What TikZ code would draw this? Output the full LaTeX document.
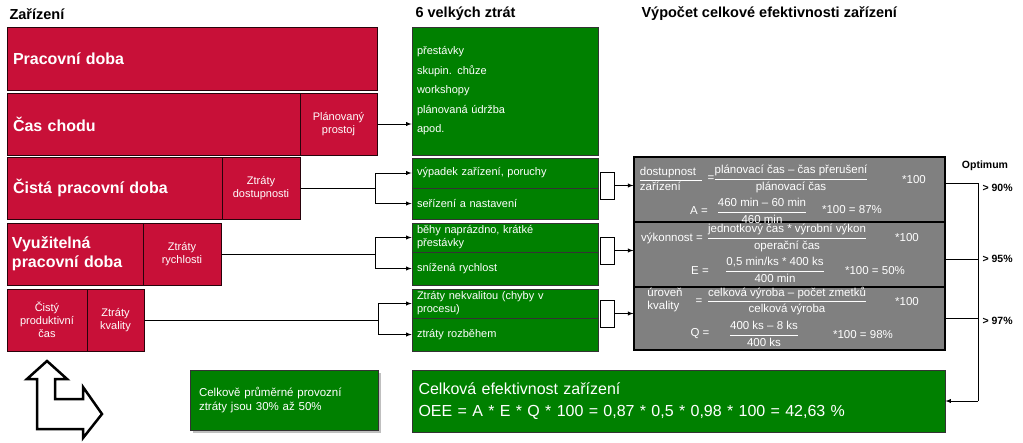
\documentclass[tikz,border=0pt]{standalone}
\usepackage{amsmath}
\usepackage{fontspec}
\setmainfont{Liberation Sans}
\usepackage{tikz}
\usetikzlibrary{shadows,calc}

\definecolor{oeered}{RGB}{200,16,56}
\definecolor{oeegreen}{RGB}{0,128,0}
\definecolor{oeegray}{RGB}{128,128,128}

\tikzset{
  redbox/.style={draw=black!80!oeered,fill=oeered,text=white,inner sep=0pt,line width=1pt},
  greenbox/.style={draw=black!80,fill=oeegreen,text=white,inner sep=0pt,line width=0.8pt},
  graybox/.style={draw=black,fill=oeegray,text=white,inner sep=0pt,line width=1.2pt},
  big/.style={font=\fontsize{16}{19}\selectfont\bfseries,align=left},
  small/.style={font=\fontsize{11}{13}\selectfont,align=center},
  head/.style={font=\fontsize{14.5}{16}\selectfont\bfseries,anchor=west},
  frm/.style={text=white,font=\fontsize{11.5}{12.5}\selectfont,inner sep=0pt},
  link/.style={line width=0.9pt},
  arr/.style={line width=0.9pt,-latex}
}
\newcommand{\frc}[2]{$\dfrac{\mbox{#1}}{\mbox{#2}}$}

\begin{document}
\begin{tikzpicture}[x=1pt,y=-1pt]
\useasboundingbox (0,0) rectangle (1023,442);

% headings
\node[head] (h1) at (6,14) {Zařízení};
\node[head] (h2) at (412,14) {6 velkých ztrát};
\node[head] (h3) at (638,14) {Výpočet celkové efektivnosti zařízení};

% red time blocks
\node[redbox,big,minimum width=370pt,minimum height=63pt,text width=358pt] (pd) at (192,58.5) {Pracovní doba};
\node[redbox,big,minimum width=293pt,minimum height=62pt,text width=281pt] (cc) at (153.5,124) {Čas chodu};
\node[redbox,small,minimum width=77pt,minimum height=62pt] (pp) at (338.5,124) {Plánovaný\\prostoj};
\node[redbox,big,minimum width=215pt,minimum height=62pt,text width=203pt] (cpd) at (114.5,188) {Čistá pracovní doba};
\node[redbox,small,minimum width=78pt,minimum height=62pt] (zd) at (261,188) {Ztráty\\dostupnosti};
\node[redbox,big,minimum width=136pt,minimum height=62pt,text width=126pt] (vpd) at (75,254) {Využitelná\\pracovní doba};
\node[redbox,small,minimum width=78pt,minimum height=62pt] (zr) at (182,254) {Ztráty\\rychlosti};
\node[redbox,small,minimum width=80pt,minimum height=62pt] (cpc) at (47,320) {Čistý\\produktivní\\čas};
\node[redbox,small,minimum width=57pt,minimum height=62pt] (zk) at (115.5,320) {Ztráty\\kvality};

% green losses
\node[greenbox,font=\fontsize{11}{19.5}\selectfont,align=left,text width=176pt,minimum width=186pt,minimum height=128pt] (gz) at (505,91) {přestávky\\skupin. chůze\\workshopy\\plánovaná údržba\\apod.};
\node[greenbox,small,align=left,text width=176pt,minimum width=186pt,minimum height=30pt] (g1a) at (505,173) {výpadek zařízení, poruchy};
\node[greenbox,small,align=left,text width=176pt,minimum width=186pt,minimum height=31pt] (g1b) at (505,203.5) {seřízení a nastavení};
\node[greenbox,small,align=left,text width=176pt,minimum width=186pt,minimum height=29pt] (g2a) at (505,237.5) {běhy naprázdno, krátké\\přestávky};
\node[greenbox,small,align=left,text width=176pt,minimum width=186pt,minimum height=33pt] (g2b) at (505,268.5) {snížená rychlost};
\node[greenbox,small,align=left,text width=176pt,minimum width=186pt,minimum height=29pt] (g3a) at (505,303.5) {Ztráty nekvalitou (chyby v\\procesu)};
\node[greenbox,small,align=left,text width=176pt,minimum width=186pt,minimum height=33pt] (g3b) at (505,334.5) {ztráty rozběhem};

% bottom boxes
\node[greenbox,drop shadow,font=\fontsize{11.5}{14}\selectfont,align=left,text width=170pt,minimum width=188pt,minimum height=60pt] (celk) at (284,400) {Celkově průměrné provozní\\ztráty jsou 30\% až 50\%};
\node[greenbox,font=\fontsize{16}{22}\selectfont,align=left,text width=520pt,minimum width=533pt,minimum height=62pt] (oee) at (678.5,401) {Celková efektivnost zařízení\\OEE = A * E * Q * 100 = 0,87 * 0,5 * 0,98 * 100 = 42,63 \%};

% small white boxes
\node[draw,fill=white,minimum width=14pt,minimum height=27pt,inner sep=0pt] (wb1) at (607,185.5) {};
\node[draw,fill=white,minimum width=14pt,minimum height=27pt,inner sep=0pt] (wb2) at (607,250.5) {};
\node[draw,fill=white,minimum width=14pt,minimum height=27pt,inner sep=0pt] (wb3) at (607,313.5) {};

% gray calculation boxes
\node[graybox,minimum width=311pt,minimum height=65pt] (gr1) at (789.5,189.5) {};
\node[graybox,minimum width=311pt,minimum height=65pt] (gr2) at (789.5,254.5) {};
\node[graybox,minimum width=311pt,minimum height=63pt] (gr3) at (789.5,318.5) {};

% formulas
\node[frm,align=left] (dz) at (671,179) {\underline{dostupnost\rule[-2pt]{6pt}{0pt}}\\zařízení};
\node[frm] (e1) at (711,179) {=};
\node[frm] (f1) at (791,179) {\frc{plánovací čas – čas přerušení}{plánovací čas}};
\node[frm] (m1) at (914,180) {*100};
\node[frm] (a1) at (699,211) {A =};
\node[frm] (f1b) at (762,211) {\frc{460 min – 60 min}{460 min}};
\node[frm] (r1) at (852,210) {*100 = 87\%};

\node[frm] (vk) at (672,238) {výkonnost =};
\node[frm] (f2) at (787,238) {\frc{jednotkový čas * výrobní výkon}{operační čas}};
\node[frm] (m2) at (907,238) {*100};
\node[frm] (a2) at (700,271) {E =};
\node[frm] (f2b) at (775,270) {\frc{0,5 min/ks * 400 ks}{400 min}};
\node[frm] (r2) at (875,271) {*100 = 50\%};

\node[frm,align=left] (uk) at (665,300) {úroveň\\kvality};
\node[frm] (e3) at (699,302) {=};
\node[frm] (f3) at (787,301) {\frc{celková výroba – počet zmetků}{celková výroba}};
\node[frm] (m3) at (907,302) {*100};
\node[frm] (a3) at (700,334) {Q =};
\node[frm] (f3b) at (764,334) {\frc{400 ks – 8 ks}{400 ks}};
\node[frm] (r3) at (863,335) {*100 = 98\%};

% optimum
\node[font=\fontsize{10.5}{12}\selectfont\bfseries] (opt) at (985,166) {Optimum};
\node[font=\fontsize{10.5}{12}\selectfont\bfseries,anchor=west] (o1) at (979,188) {> 90\%};
\node[font=\fontsize{10.5}{12}\selectfont\bfseries,anchor=west] (o2) at (979,259) {> 95\%};
\node[font=\fontsize{10.5}{12}\selectfont\bfseries,anchor=west] (o3) at (979,321) {> 97\%};

% connectors
\draw[arr] (pp.east) -- (gz.west |- pp.east);
\coordinate (b1) at (375,188);
\coordinate (b2) at (375,254);
\coordinate (b3) at (378,320);
\draw[link] (zd.east) -- (b1);
\draw[arr] (b1) |- (g1a.west);
\draw[arr] (b1) |- (g1b.west);
\draw[link] (zr.east) -- (b2);
\draw[arr] (b2) |- (g2a.west);
\draw[arr] (b2) |- (g2b.west);
\draw[link] (zk.east) -- (b3);
\draw[arr] (b3) |- (g3a.west);
\draw[arr] (b3) |- (g3b.west);
\draw[arr] (wb1.east) -- (gr1.west |- wb1.east);
\draw[arr] (wb2.east) -- (gr2.west |- wb2.east);
\draw[arr] (wb3.east) -- (gr3.west |- wb3.east);

\coordinate (c1) at (978,183);
\coordinate (c2) at (978,259);
\coordinate (c3) at (978,318);
\coordinate (c4) at (978,401);
\draw[link] (gr1.east |- c1) -- (c1);
\draw[link] (gr2.east |- c2) -- (c2);
\draw[link] (gr3.east |- c3) -- (c3);
\draw[link] (c1) -- (c4);
\draw[arr] (c4) -- (oee.east);

% bent double arrow
\draw[line width=2.5pt,fill=white,line join=miter]
  (47,361) -- (67,379) -- (55,379) -- (55,399) -- (83,399) -- (83,387)
  -- (102,414) -- (83,438) -- (83,429) -- (37,429) -- (37,379) -- (27,379) -- cycle;

\end{tikzpicture}
\end{document}
